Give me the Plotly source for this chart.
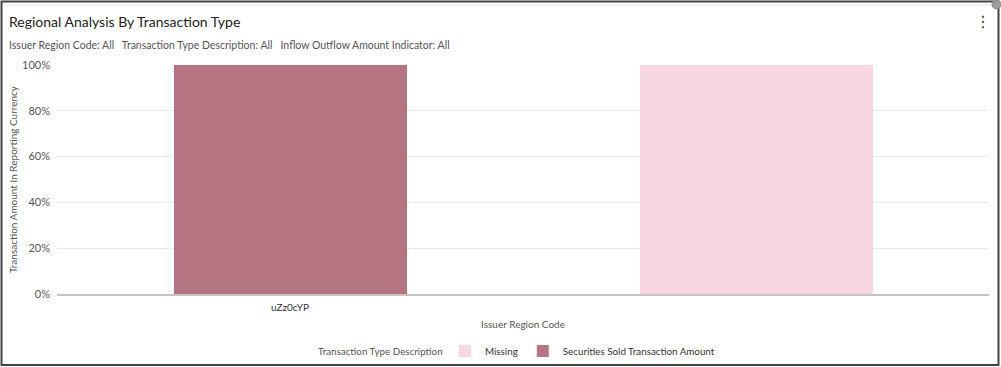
import plotly.graph_objects as go

categories = ["uZz0cYP", "Missing region"]
tick_labels = ["uZz0cYP", ""]
missing_values = [0.0, 1.0]
securities_sold_values = [1.0, 0.0]
legend_title = "Transaction Type Description"

W, H = 1001, 367
L, R, T, B = 57, 12, 65, 73
pw, ph = W - L - R, H - T - B

def px(x):
    return (x - L) / pw

def py(y):
    return (H - B - y) / ph

FONT = "Lato"

fig = go.Figure()
fig.add_trace(go.Bar(x=categories, y=missing_values, name="Missing",
                     marker=dict(color="#F7D8E0", line=dict(width=0))))
fig.add_trace(go.Bar(x=categories, y=securities_sold_values, name="Securities Sold Transaction Amount",
                     marker=dict(color="#B57482", line=dict(width=0))))

fig.update_layout(
    width=W, height=H,
    margin=dict(l=L, r=R, t=T, b=B, autoexpand=False),
    barmode="stack", bargap=0.5,
    paper_bgcolor="white", plot_bgcolor="white",
    font=dict(family=FONT, size=11, color="#555555"),
    legend=dict(orientation="h", x=px(445), xanchor="left", y=py(351), yanchor="middle",
                bgcolor="rgba(0,0,0,0)", itemsizing="constant",
                font=dict(size=9.8, color="#333333"), itemwidth=30, traceorder="normal"),
    xaxis=dict(tickvals=categories, ticktext=tick_labels, showgrid=False, automargin=False,
               showline=True, linecolor="#C4C4C4", linewidth=2, ticks="",
               tickfont=dict(size=10, color="#333333"), ticklabelstandoff=3,
               title=dict(text="Issuer Region Code", font=dict(size=10, color="#555555"), standoff=9)),
    yaxis=dict(range=[0, 1], dtick=0.2, tickformat=".0%", showgrid=True, automargin=False,
               gridcolor="#E9E9E9", gridwidth=1, zeroline=False, showline=False,
               tickfont=dict(size=11, color="#555555"), ticks="", ticklabelstandoff=6,
               title=dict(text="Transaction Amount In Reporting Currency",
                          font=dict(size=10, color="#555555"), standoff=2)),
    showlegend=True,
)

fig.add_annotation(text=legend_title, x=px(445), y=py(351),
                   xref="paper", yref="paper", xanchor="right", yanchor="middle",
                   showarrow=False, font=dict(size=9.8, color="#555555", family=FONT))
fig.add_annotation(text="Regional Analysis By Transaction Type", x=px(7), y=py(21),
                   xref="paper", yref="paper", xanchor="left", yanchor="middle",
                   showarrow=False, font=dict(size=14, color="#222222", family=FONT))
fig.add_annotation(text="Issuer Region Code: All&nbsp;&nbsp;&nbsp;Transaction Type Description: All&nbsp;&nbsp;&nbsp;Inflow Outflow Amount Indicator: All",
                   x=px(7), y=py(45), xref="paper", yref="paper", xanchor="left", yanchor="middle",
                   showarrow=False, font=dict(size=10.5, color="#555555", family=FONT))
fig.add_annotation(text="⋮", x=px(983), y=py(21), xref="paper", yref="paper",
                   xanchor="center", yanchor="middle", showarrow=False,
                   font=dict(size=16, color="#333333", family="DejaVu Sans"))

# outer frame
fig.add_shape(type="rect", xref="paper", yref="paper",
              x0=px(1.5), x1=px(998.5), y0=py(365), y1=py(1.5),
              line=dict(color="#444444", width=2), fillcolor="rgba(0,0,0,0)", layer="above")
fig.add_shape(type="line", xref="paper", yref="paper",
              x0=px(3), x1=px(996), y0=py(5), y1=py(5),
              line=dict(color="#E6E6E6", width=1))
# small close icon at top-right corner
fig.add_shape(type="circle", xref="paper", yref="paper",
              x0=px(992), x1=px(1001), y0=py(9), y1=py(0),
              line=dict(color="#888888", width=1), fillcolor="#9A9A9A", layer="above")

fig.write_html("out.html", config={"displayModeBar": False},
               post_script="document.body.style.margin='0px';document.body.style.overflow='hidden';")
